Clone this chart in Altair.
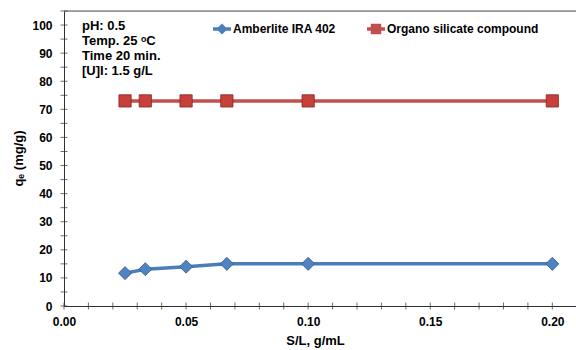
import altair as alt
import pandas as pd

series_names = ["Amberlite IRA 402", "Organo silicate compound"]
sl_amberlite = [0.025, 0.0333, 0.05, 0.0667, 0.10, 0.20]
qe_amberlite = [11.7, 13.1, 14.0, 15.0, 15.0, 15.0]
sl_organo = [0.025, 0.0333, 0.05, 0.0667, 0.10, 0.20]
qe_organo = [73.0, 73.0, 73.0, 73.0, 73.0, 73.0]
note_lines = ["pH: 0.5", "Temp. 25 \u1d52C", "Time 20 min.", "[U]I: 1.5 g/L"]
x_labels = [0.0, 0.05, 0.10, 0.15, 0.20]
x_ticks = [i / 100 for i in range(0, 21)]
y_labels = list(range(0, 101, 10))
y_ticks = list(range(0, 106, 5))
x_max = 0.2097
y_max = 105

df = pd.concat([
    pd.DataFrame({"sl": sl_amberlite, "qe": qe_amberlite, "series": series_names[0]}),
    pd.DataFrame({"sl": sl_organo, "qe": qe_organo, "series": series_names[1]}),
])

FONT = "Liberation Sans"
line_colors = ["#4A7EBB", "#C0504D"]
fill_colors = ["#4F83C2", "#C8403C"]
edge_colors = ["#2E5A8A", "#8A2522"]
AXC = "#303030"

xscale = alt.Scale(domain=[0, x_max], nice=False, zero=False)
yscale = alt.Scale(domain=[0, y_max], nice=False)

x_axis = alt.Axis(values=x_labels, format=".2f", grid=False, ticks=False,
                  labelFlush=False, labelOverlap=False,
                  labelFont=FONT, labelFontSize=12, labelFontWeight="bold",
                  labelColor="black", labelBaseline="top", labelPadding=10,
                  titleFont=FONT, titleFontSize=13, titleFontWeight="bold",
                  titleColor="black", titleX=251, titleY=28,
                  titleAlign="center", titleBaseline="top", domainColor=AXC)
y_axis = alt.Axis(values=y_labels, grid=False, ticks=False,
                  labelFlush=False, labelOverlap=False,
                  labelFont=FONT, labelFontSize=12, labelFontWeight="bold",
                  labelColor="black", labelPadding=12,
                  titleFont=FONT, titleFontSize=13, titleFontWeight="bold",
                  titleColor="black", titleX=-46, titleY=147, titleAngle=270,
                  titleAlign="center", titleBaseline="middle", domainColor=AXC)


def xe(field="sl"):
    return alt.X(f"{field}:Q", scale=xscale, title="S/L, g/mL", axis=x_axis)


def ye(field="qe"):
    return alt.Y(f"{field}:Q", scale=yscale, title="q\u2091 (mg/g)", axis=y_axis)


# legend symbols: short line with the marker on it
legend_paths = [
    "M-1,-0.2H1V0.2H-1Z M0,-0.62L0.62,0L0,0.62L-0.62,0Z",
    "M-1,-0.2H1V0.2H-1Z M-0.58,-0.58H0.58V0.58H-0.58Z",
]
legend_def = alt.Legend(title=None, orient="none", direction="horizontal",
                        legendX=149, legendY=9, columnPadding=31,
                        labelFont=FONT, labelFontSize=12, labelFontWeight="bold",
                        labelColor="black", symbolSize=324, symbolStrokeWidth=0,
                        symbolOpacity=1, labelOffset=2)

color_enc = alt.Color("series:N", scale=alt.Scale(domain=series_names, range=line_colors),
                      sort=series_names, legend=legend_def)

base = alt.Chart(df)

lines = base.mark_line(strokeWidth=3.5).encode(x=xe(), y=ye(), color=color_enc)

pts_a = base.transform_filter(alt.datum.series == series_names[0]).mark_point(
    shape="diamond", filled=True, opacity=1, size=170, fill=fill_colors[0],
    stroke=edge_colors[0], strokeWidth=0.8
).encode(x=xe(), y=ye())
pts_b = base.transform_filter(alt.datum.series == series_names[1]).mark_point(
    shape="square", filled=True, opacity=1, size=150, fill=fill_colors[1],
    stroke=edge_colors[1], strokeWidth=0.8
).encode(x=xe(), y=ye())

legend_layer = base.transform_filter("false").mark_point(filled=True, opacity=1, size=324).encode(
    x=xe(), y=ye(),
    color=color_enc,
    shape=alt.Shape("series:N", scale=alt.Scale(domain=series_names, range=legend_paths),
                    sort=series_names, legend=legend_def),
)

ticks_x = alt.Chart(pd.DataFrame({"sl": x_ticks})).mark_tick(
    orient="vertical", color=AXC, size=7, thickness=1
).encode(x=xe(), y=alt.value(295))
ticks_y = alt.Chart(pd.DataFrame({"qe": y_ticks})).mark_tick(
    orient="horizontal", color=AXC, size=7, thickness=1
).encode(y=ye(), x=alt.value(0))

top_line = alt.Chart(pd.DataFrame({"a": [0]})).mark_rule(color="#555555", strokeWidth=1).encode(
    x=alt.value(0), x2=alt.value(512), y=alt.value(0))

note = alt.Chart(pd.DataFrame({"a": [0]})).mark_text(
    text=note_lines, align="left", baseline="top", font=FONT, fontSize=13,
    fontWeight="bold", color="black", lineHeight=15
).encode(x=alt.value(18), y=alt.value(9))

chart = alt.layer(lines, pts_a, pts_b, legend_layer, ticks_x, ticks_y, top_line, note).properties(
    width=512, height=295,
    autosize=alt.AutoSizeParams(type="none"),
    padding={"left": 64, "top": 11, "right": 0, "bottom": 44},
).configure_view(stroke=None).configure(background="white")

chart.save("out.html", embed_options={"renderer": "svg", "actions": False})
